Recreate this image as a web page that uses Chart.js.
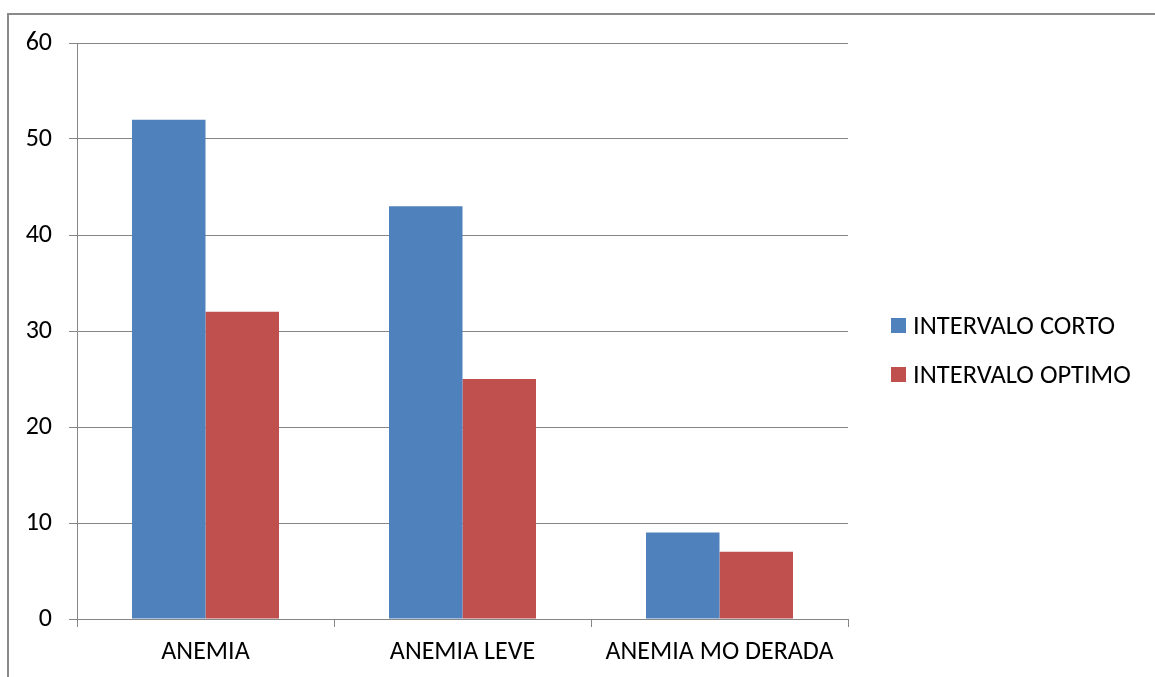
<!DOCTYPE html>
<html>
<head>
<meta charset="utf-8">
<script src="https://cdn.jsdelivr.net/npm/chart.js@4.4.1/dist/chart.umd.min.js"></script>
<style>
  html, body { margin: 0; padding: 0; background: #fff; overflow: hidden; }
  #wrap { position: relative; width: 1155px; height: 677px; }
  #frame { position: absolute; left: 7px; top: 13px; width: 1200px; height: 700px;
           border-top: 2px solid #8a8a8a; border-left: 2px solid #8a8a8a; box-sizing: border-box; }
  canvas { position: absolute; left: 0; top: 0; }
  #legend { position: absolute; left: 891px; top: 311px; font-family: Carlito, Calibri, Lato, sans-serif;
            font-size: 26.5px; color: #000; }
  .item { display: flex; align-items: center; height: 28px; margin-bottom: 21px; white-space: nowrap; }
  .sw { width: 15px; height: 15px; margin-right: 7px; }
</style>
</head>
<body>
<div id="wrap">
  <div id="frame"></div>
  <canvas id="c" width="1155" height="677"></canvas>
  <div id="legend"></div>
</div>
<script>
const categories = ["ANEMIA", "ANEMIA LEVE", "ANEMIA MO DERADA"];
const seriesNames = ["INTERVALO CORTO", "INTERVALO OPTIMO"];
const corto = [52, 43, 9];
const optimo = [32, 25, 7];
const yTicks = [0, 10, 20, 30, 40, 50, 60];
const colors = ["#4F81BD", "#C0504D"];

const FONT = "Carlito, Calibri, Lato, sans-serif";
const GRID = "#868686";

const chart = new Chart(document.getElementById("c"), {
  type: "bar",
  data: {
    labels: categories,
    datasets: [
      { label: seriesNames[0], data: corto, backgroundColor: colors[0], borderWidth: 0 },
      { label: seriesNames[1], data: optimo, backgroundColor: colors[1], borderWidth: 0 }
    ]
  },
  options: {
    responsive: false,
    animation: false,
    events: [],
    layout: { padding: { left: 0, right: 307, top: 43, bottom: 0 } },
    datasets: { bar: { barPercentage: 1.0, categoryPercentage: 0.572 } },
    plugins: { legend: { display: false }, tooltip: { enabled: false } },
    scales: {
      x: {
        grid: { display: true, drawOnChartArea: false, offset: true, tickLength: 8, color: GRID, lineWidth: 1 },
        border: { display: true, color: GRID, width: 1 },
        afterFit: (axis) => { axis.height = 58; },
        ticks: { color: "#000", font: { family: FONT, size: 26 }, padding: 10, maxRotation: 0 }
      },
      y: {
        min: 0, max: 60,
        afterBuildTicks: (axis) => { axis.ticks = yTicks.map(v => ({ value: v })); },
        grid: { color: GRID, lineWidth: 1, tickLength: 8 },
        border: { display: true, color: GRID, width: 1 },
        afterFit: (axis) => { axis.width = 77; },
        ticks: { color: "#000", font: { family: FONT, size: 26 }, padding: 17 }
      }
    }
  }
});

const lg = document.getElementById("legend");
chart.data.datasets.forEach(ds => {
  const d = document.createElement("div");
  d.className = "item";
  d.innerHTML = '<span class="sw" style="background:' + ds.backgroundColor + '"></span><span>' + ds.label + '</span>';
  lg.appendChild(d);
});
</script>
</body>
</html>
